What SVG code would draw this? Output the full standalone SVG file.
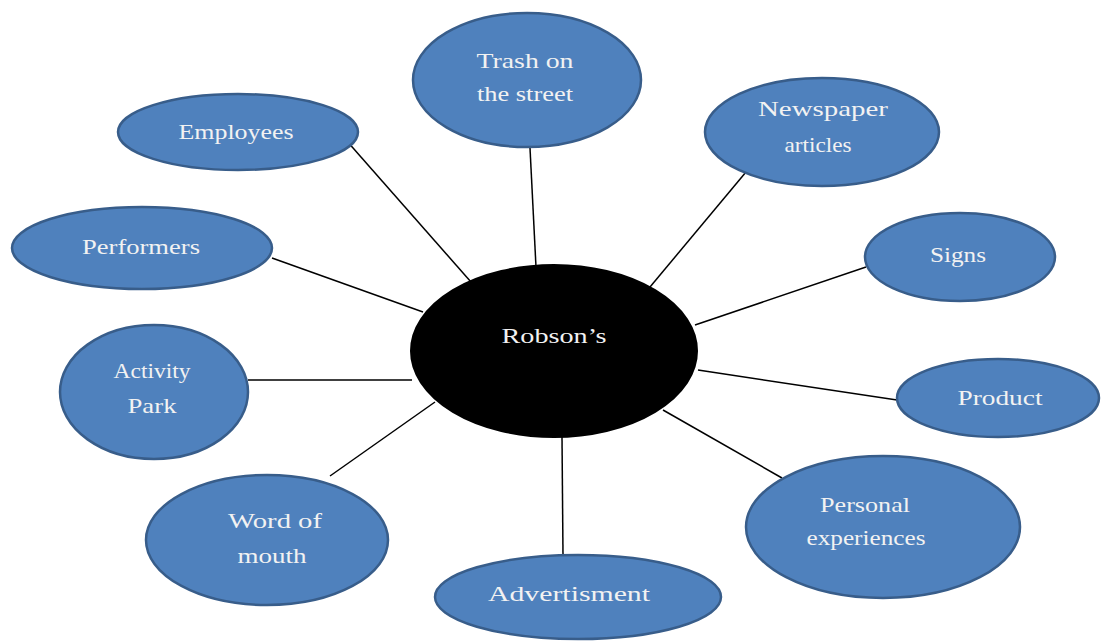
<svg xmlns="http://www.w3.org/2000/svg" width="1102" height="641" viewBox="0 0 1102 641">
<style>
.n{fill:#4f81bd;stroke:#385d8a;stroke-width:2.5}
.c{fill:#000;stroke:#000;stroke-width:2}
.t{font-family:"Liberation Serif",serif;font-size:22px;fill:#f2f2f2;text-anchor:middle}
.e line{stroke:#000;stroke-width:1.5}
</style>
<rect width="1102" height="641" fill="#fff"/>
<g id="connectors" class="e">
<line x1="346" y1="140" x2="471" y2="282"/>
<line x1="530" y1="148" x2="536" y2="267"/>
<line x1="746" y1="172" x2="650" y2="287"/>
<line x1="272" y1="258" x2="423" y2="312"/>
<line x1="866" y1="267" x2="695" y2="325"/>
<line x1="248" y1="380" x2="412" y2="380"/>
<line x1="698" y1="370" x2="897" y2="400"/>
<line x1="330" y1="476" x2="435" y2="402"/>
<line x1="562" y1="437" x2="563" y2="555"/>
<line x1="663" y1="410" x2="782" y2="478"/>
</g>
<g id="trash"><ellipse class="n" cx="527" cy="80" rx="114" ry="67"/><text class="t" x="525" y="68" textLength="97" lengthAdjust="spacingAndGlyphs">Trash on</text><text class="t" x="525" y="101" textLength="96" lengthAdjust="spacingAndGlyphs">the street</text></g>
<g id="newspaper"><ellipse class="n" cx="822" cy="132" rx="117" ry="54"/><text class="t" x="823" y="116" textLength="130" lengthAdjust="spacingAndGlyphs">Newspaper</text><text class="t" x="818" y="152" textLength="67" lengthAdjust="spacingAndGlyphs">articles</text></g>
<g id="employees"><ellipse class="n" cx="238" cy="132" rx="120" ry="38"/><text class="t" x="236" y="139" textLength="115" lengthAdjust="spacingAndGlyphs">Employees</text></g>
<g id="performers"><ellipse class="n" cx="142" cy="248" rx="130" ry="41"/><text class="t" x="141" y="254" textLength="118" lengthAdjust="spacingAndGlyphs">Performers</text></g>
<g id="signs"><ellipse class="n" cx="960" cy="257" rx="95" ry="44"/><text class="t" x="958" y="262" textLength="56" lengthAdjust="spacingAndGlyphs">Signs</text></g>
<g id="robsons"><ellipse class="c" cx="554" cy="351" rx="143" ry="86"/><text class="t" x="554" y="343" textLength="105" lengthAdjust="spacingAndGlyphs">Robson’s</text></g>
<g id="activity"><ellipse class="n" cx="154" cy="392" rx="94" ry="67"/><text class="t" x="152" y="378" textLength="77" lengthAdjust="spacingAndGlyphs">Activity</text><text class="t" x="152" y="413" textLength="49" lengthAdjust="spacingAndGlyphs">Park</text></g>
<g id="product"><ellipse class="n" cx="998" cy="398" rx="101" ry="39"/><text class="t" x="1000" y="405" textLength="85" lengthAdjust="spacingAndGlyphs">Product</text></g>
<g id="word"><ellipse class="n" cx="267" cy="540" rx="121" ry="65"/><text class="t" x="275" y="528" textLength="94" lengthAdjust="spacingAndGlyphs">Word of</text><text class="t" x="272" y="563" textLength="69" lengthAdjust="spacingAndGlyphs">mouth</text></g>
<g id="personal"><ellipse class="n" cx="883" cy="527" rx="137" ry="71"/><text class="t" x="865" y="512" textLength="90" lengthAdjust="spacingAndGlyphs">Personal</text><text class="t" x="866" y="545" textLength="119" lengthAdjust="spacingAndGlyphs">experiences</text></g>
<g id="advertisment"><ellipse class="n" cx="578" cy="597" rx="143" ry="42"/><text class="t" x="569" y="601" textLength="162" lengthAdjust="spacingAndGlyphs">Advertisment</text></g>
</svg>
